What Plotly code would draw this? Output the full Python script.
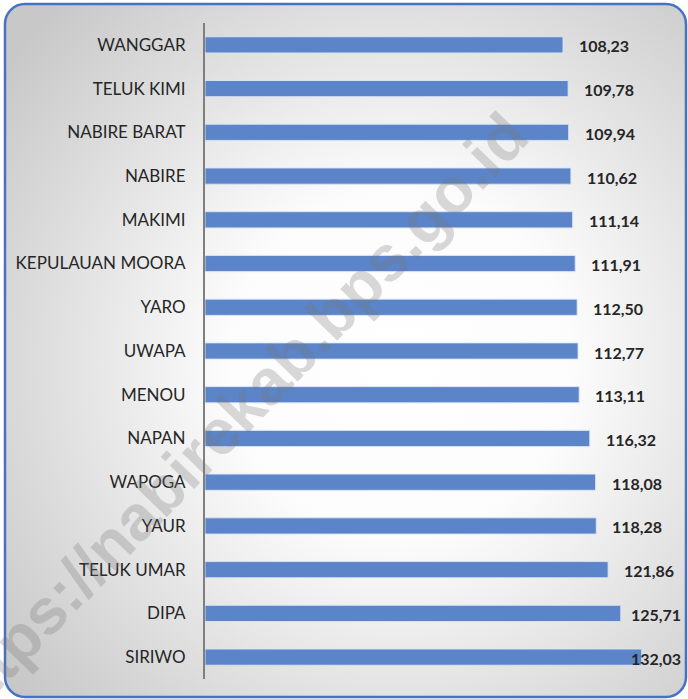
import base64
import plotly.graph_objects as go

categories = ["WANGGAR", "TELUK KIMI", "NABIRE BARAT", "NABIRE", "MAKIMI",
              "KEPULAUAN MOORA", "YARO", "UWAPA", "MENOU", "NAPAN", "WAPOGA",
              "YAUR", "TELUK UMAR", "DIPA", "SIRIWO"]
values = [108.23, 109.78, 109.94, 110.62, 111.14, 111.91, 112.50, 112.77,
          113.11, 116.32, 118.08, 118.28, 121.86, 125.71, 132.03]
value_labels = [f"{v:.2f}".replace(".", ",") for v in values]
watermark = "https://nabirekab.bps.go.id"

W, H = 688, 699
ML, MR, MT, MB = 205, 8, 23, 20
PW, PH = W - ML - MR, H - MT - MB
XMAX = 143.6
scale = PW / XMAX

svg = f'''<svg xmlns="http://www.w3.org/2000/svg" width="{W}" height="{H}" viewBox="0 0 {W} {H}">
<defs><radialGradient id="g" cx="58%" cy="52%" r="72%">
<stop offset="0" stop-color="#ffffff"/><stop offset="0.35" stop-color="#fcfcfc"/>
<stop offset="1" stop-color="#c8c8c8"/></radialGradient></defs>
<rect x="5" y="4" width="681" height="693" rx="20" ry="20" fill="url(#g)" stroke="#4472C4" stroke-width="2.5"/>
</svg>'''
src = "data:image/svg+xml;base64," + base64.b64encode(svg.encode()).decode()

fig = go.Figure(go.Bar(
    x=values, y=categories, orientation="h", width=0.37,
    marker=dict(color="#5B84C9", line=dict(color="rgba(220,230,245,0.9)", width=1)),
    hoverinfo="skip",
))

annotations = []
max_start = (683 - 54 - ML) / scale
for v, lab, c in zip(values, value_labels, categories):
    start = min(v + 14 / scale, max_start)
    annotations.append(dict(x=start, y=c, xref="x", yref="y", text=lab, showarrow=False,
                            xanchor="left", yanchor="middle", yshift=-1,
                            font=dict(family="Lato", size=16, color="#262626", weight="bold")))

annotations.append(dict(x=(232 - ML) / PW, y=(H - MB - 418) / PH, xref="paper", yref="paper",
                        text=watermark, showarrow=False, textangle=-46,
                        xanchor="center", yanchor="middle",
                        font=dict(family="Liberation Sans", size=64, color="rgba(120,120,120,0.28)", weight="bold")))

fig.update_layout(
    width=W, height=H,
    margin=dict(l=ML, r=MR, t=MT, b=MB),
    paper_bgcolor="white", plot_bgcolor="rgba(0,0,0,0)",
    showlegend=False,
    xaxis=dict(range=[0, XMAX], visible=False, fixedrange=True),
    yaxis=dict(categoryorder="array", categoryarray=categories, autorange="reversed",
               showline=True, linecolor="#7f7f7f", linewidth=2, ticks="",
               showgrid=False, ticklabelstandoff=14, fixedrange=True,
               tickfont=dict(family="Lato", size=17, color="#262626")),
    images=[dict(source=src, xref="paper", yref="paper", x=-ML / PW, y=1 + MT / PH,
                 sizex=W / PW, sizey=H / PH, xanchor="left", yanchor="top",
                 sizing="stretch", layer="below")],
    annotations=annotations,
)

fig.write_html("out.html", config={"displayModeBar": False},
               post_script="document.body.style.margin='0';document.body.style.overflow='hidden';")
